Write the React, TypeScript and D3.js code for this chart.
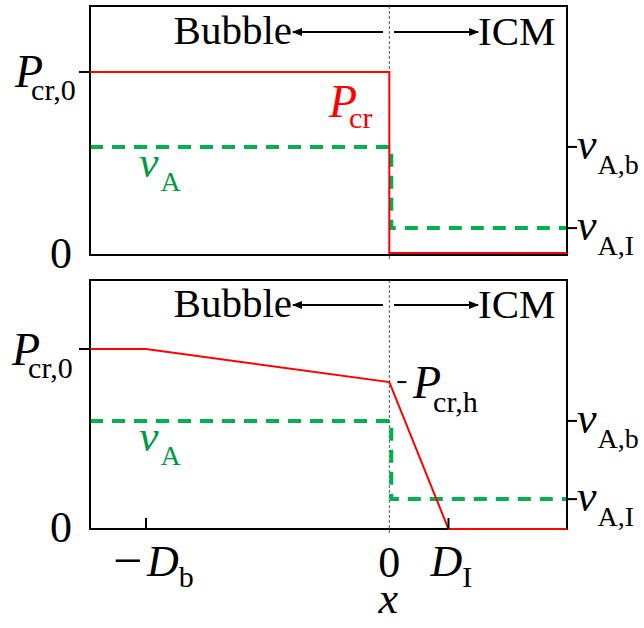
import * as d3 from 'd3';
import React, { useEffect, useRef } from 'react';

// x in units of D_b, y normalised to the panel height
const xDomain = [-1.23, 0.73];
const xTicksBottom = [-1, 0, 0.243];

// top panel: sharp boundary
const topPcr = [[-1.23, 0.735], [0, 0.735], [0, 0.008], [0.73, 0.008]];
const topVA = [[-1.23, 0.434], [0.008, 0.434], [0.008, 0.108], [0.73, 0.108]];
const topRightTicks = [0.434, 0.108];

// bottom panel: smooth transition
const botPcr = [[-1.23, 0.723], [-1, 0.723], [0, 0.59], [0.243, 0], [0.73, 0]];
const botVA = [[-1.23, 0.434], [0.008, 0.434], [0.008, 0.12], [0.73, 0.12]];
const botRightTicks = [0.434, 0.12];

const SERIF = '"Liberation Serif", "Times New Roman", serif';
const RED = '#ff0000';
const GREEN = '#00b050';
const GREEN_TXT = '#009a44';

function App() {
    const ref = useRef(null);

    useEffect(() => {
        const root = d3.select(ref.current);
        root.selectAll('*').remove();

        const svg = root.append('svg')
            .attr('width', 644)
            .attr('height', 628)
            .style('position', 'absolute')
            .style('left', 0)
            .style('top', 0)
            .style('font-family', SERIF);

        const defs = svg.append('defs');
        defs.append('marker')
            .attr('id', 'head')
            .attr('viewBox', '0 0 10 10')
            .attr('refX', 9).attr('refY', 5)
            .attr('markerWidth', 5).attr('markerHeight', 5)
            .attr('markerUnits', 'strokeWidth')
            .attr('orient', 'auto')
            .append('path').attr('d', 'M0,1 L10,5 L0,9 Z').attr('fill', '#000');

        const x = d3.scaleLinear().domain(xDomain).range([90, 567]);

        // helper for text with subscript
        function label(g, txt, sub, px, py, opts) {
            const o = Object.assign({ size: 44, subSize: 29, dx: 0, dy: 13, color: '#000', italic: true }, opts || {});
            const t = g.append('text')
                .attr('x', px).attr('y', py)
                .attr('fill', o.color)
                .style('font-size', o.size + 'px');
            t.append('tspan').attr('font-style', o.italic ? 'italic' : 'normal').text(txt);
            if (sub) {
                t.append('tspan')
                    .attr('dx', o.dx).attr('dy', o.dy)
                    .style('font-size', o.subSize + 'px')
                    .text(sub);
            }
            return t;
        }

        function panel(top, bottom, pcr, va, rightTicks, arrowY, textY) {
            const y = d3.scaleLinear().domain([0, 1]).range([bottom, top]);
            const g = svg.append('g');
            const line = d3.line().x(d => x(d[0])).y(d => y(d[1]));

            // dotted boundary
            g.append('line')
                .attr('x1', x(0)).attr('x2', x(0))
                .attr('y1', top).attr('y2', bottom + 4)
                .attr('stroke', '#555').attr('stroke-width', 1)
                .attr('stroke-dasharray', '3,2');

            g.append('path').attr('d', line(va))
                .attr('fill', 'none').attr('stroke', GREEN)
                .attr('stroke-width', 4).attr('stroke-dasharray', '13,9');

            // frame
            g.append('rect')
                .attr('x', x(xDomain[0])).attr('y', top)
                .attr('width', x(xDomain[1]) - x(xDomain[0]))
                .attr('height', bottom - top)
                .attr('fill', 'none').attr('stroke', '#000').attr('stroke-width', 2);

            g.append('path').attr('d', line(pcr))
                .attr('fill', 'none').attr('stroke', RED).attr('stroke-width', 2);

            // left tick at P_cr,0
            g.append('line')
                .attr('x1', x(xDomain[0]) - 11).attr('x2', x(xDomain[0]))
                .attr('y1', y(pcr[0][1])).attr('y2', y(pcr[0][1]))
                .attr('stroke', '#000').attr('stroke-width', 2);

            // right ticks
            rightTicks.forEach(v => {
                g.append('line')
                    .attr('x1', x(xDomain[1])).attr('x2', x(xDomain[1]) + 10)
                    .attr('y1', y(v)).attr('y2', y(v))
                    .attr('stroke', '#000').attr('stroke-width', 2);
            });

            // region arrows
            g.append('line')
                .attr('x1', 383).attr('x2', 293)
                .attr('y1', arrowY).attr('y2', arrowY)
                .attr('stroke', '#000').attr('stroke-width', 2)
                .attr('marker-end', 'url(#head)');
            g.append('line')
                .attr('x1', 394).attr('x2', 478)
                .attr('y1', arrowY).attr('y2', arrowY)
                .attr('stroke', '#000').attr('stroke-width', 2)
                .attr('marker-end', 'url(#head)');
            g.append('text').attr('x', 292).attr('y', textY)
                .attr('text-anchor', 'end').style('font-size', '41px').text('Bubble');
            g.append('text').attr('x', 478).attr('y', textY + 1)
                .style('font-size', '41px').text('ICM');

            // zero label
            g.append('text').attr('x', 50).attr('y', bottom + 13)
                .style('font-size', '44px').text('0');

            // right labels
            rightTicks.forEach((v, i) => {
                label(g, 'v', i === 0 ? 'A,b' : 'A,I', x(xDomain[1]) + 10, y(v) + 12, { dx: 1, dy: 15, subSize: 28 });
            });

            // v_A label
            label(g, 'v', 'A', 139, y(va[0][1]) + 30, { color: GREEN_TXT, dx: 2, dy: 14, subSize: 28 });

            return { g, y };
        }

        const p1 = panel(6, 255, topPcr, topVA, topRightTicks, 32, 44);
        label(p1.g, 'P', 'cr,0', 15, 87, { size: 46, dx: -12, dy: 13, subSize: 30 });
        label(p1.g, 'P', 'cr', 329, 117, { size: 46, color: RED, dx: -8, dy: 11, subSize: 30 });

        const p2 = panel(280, 529, botPcr, botVA, botRightTicks, 305, 317);
        label(p2.g, 'P', 'cr,0', 12, 365, { size: 46, dx: -12, dy: 13, subSize: 30 });

        // P_cr,h with short tick
        const yh = p2.y(botPcr[2][1]);
        p2.g.append('line')
            .attr('x1', x(0) + 8).attr('x2', x(0) + 17)
            .attr('y1', yh).attr('y2', yh)
            .attr('stroke', '#000').attr('stroke-width', 2);
        label(p2.g, 'P', 'cr,h', 413, 398, { size: 46, dx: -8, dy: 14, subSize: 30 });

        // bottom x ticks (-D_b and D_I)
        [xTicksBottom[0], xTicksBottom[2]].forEach(v => {
            p2.g.append('line')
                .attr('x1', x(v)).attr('x2', x(v))
                .attr('y1', 529).attr('y2', 518)
                .attr('stroke', '#000').attr('stroke-width', 2);
        });

        const xg = svg.append('g');
        xg.append('text').attr('x', x(-1) - 33).attr('y', 578)
            .style('font-size', '52px').text('\u2212');
        label(xg, 'D', 'b', x(-1) + 1, 576, { dx: 0, dy: 11, subSize: 30 });
        xg.append('text').attr('x', x(0)).attr('y', 577)
            .attr('text-anchor', 'middle').style('font-size', '44px').text('0');
        label(xg, 'D', 'I', x(0.243) - 18, 576, { dx: 0, dy: 11, subSize: 30 });
        xg.append('text').attr('x', x(0) - 1).attr('y', 613)
            .attr('text-anchor', 'middle').attr('font-style', 'italic')
            .style('font-size', '44px').text('x');
    }, []);

    return <div ref={ref} />;
}

export default App;
